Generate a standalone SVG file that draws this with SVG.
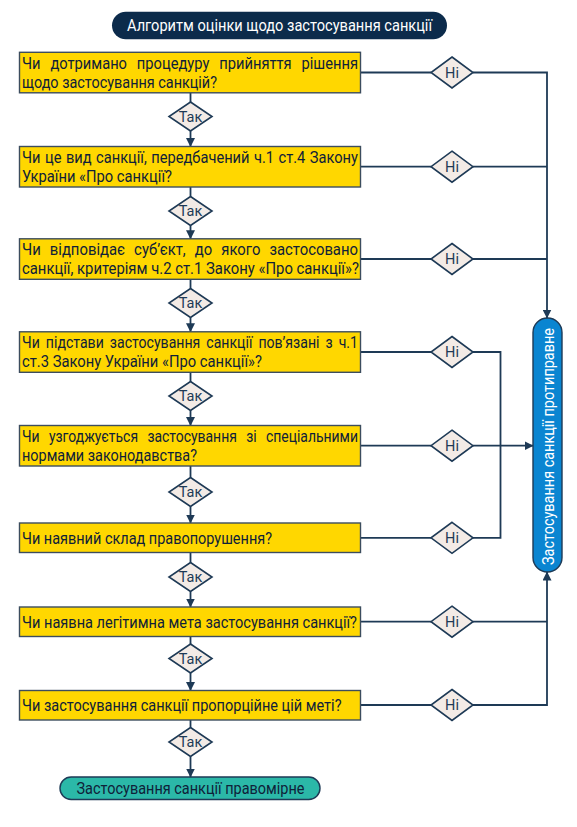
<svg xmlns="http://www.w3.org/2000/svg" width="577" height="827" viewBox="0 0 577 827">
<defs>
<marker id="arr" markerUnits="userSpaceOnUse" markerWidth="9" markerHeight="9" refX="8.5" refY="4.5" orient="auto" viewBox="0 0 9 9">
<path d="M0,0 L9,4.5 L0,9 z" fill="#1e3a56"/>
</marker>
<style>
.box{fill:#FFD700;stroke:#3c4d5e;stroke-width:1.4}
.bt{font-family:Roboto,"Liberation Sans",sans-serif;font-size:16.6px;fill:#0f2139}
.dia{fill:#f3ebe6;stroke:#1e3a56;stroke-width:1.6}
.dt{font-family:Roboto,"Liberation Sans",sans-serif;font-size:14.5px;fill:#1e3a56;text-anchor:middle}
.ln{fill:none;stroke:#1e3a56;stroke-width:1.8}
.wt{font-family:Roboto,"Liberation Sans",sans-serif;font-size:16.6px;fill:#ffffff}
</style>
</defs>
<rect width="577" height="827" fill="#ffffff"/>

<g id="title">
<rect x="112" y="11.7" width="335" height="27.6" rx="13.8" fill="#0c2b4b"/>
<text class="wt" x="127" y="31.2" textLength="305" lengthAdjust="spacingAndGlyphs">Алгоритм оцінки щодо застосування санкції</text>
</g>

<g id="connectors">
<line class="ln" x1="190.5" y1="92.8" x2="190.5" y2="102"/>
<line class="ln" x1="190.5" y1="131" x2="190.5" y2="146.5" marker-end="url(#arr)"/>
<line class="ln" x1="190.5" y1="187" x2="190.5" y2="196.5"/>
<line class="ln" x1="190.5" y1="225.5" x2="190.5" y2="238.8" marker-end="url(#arr)"/>
<line class="ln" x1="190.5" y1="279.3" x2="190.5" y2="288.5"/>
<line class="ln" x1="190.5" y1="317.5" x2="190.5" y2="331.8" marker-end="url(#arr)"/>
<line class="ln" x1="190.5" y1="372.3" x2="190.5" y2="381.5"/>
<line class="ln" x1="190.5" y1="410.5" x2="190.5" y2="425.5" marker-end="url(#arr)"/>
<line class="ln" x1="190.5" y1="466" x2="190.5" y2="477.5"/>
<line class="ln" x1="190.5" y1="506.5" x2="190.5" y2="523" marker-end="url(#arr)"/>
<line class="ln" x1="190.5" y1="552.5" x2="190.5" y2="562.5"/>
<line class="ln" x1="190.5" y1="591.5" x2="190.5" y2="607" marker-end="url(#arr)"/>
<line class="ln" x1="190.5" y1="636.5" x2="190.5" y2="644"/>
<line class="ln" x1="190.5" y1="673" x2="190.5" y2="690.5" marker-end="url(#arr)"/>
<line class="ln" x1="190.5" y1="720" x2="190.5" y2="727.5"/>
<line class="ln" x1="190.5" y1="756.5" x2="190.5" y2="777" marker-end="url(#arr)"/>
<line class="ln" x1="360.5" y1="72.5" x2="431" y2="72.5"/>
<line class="ln" x1="360.5" y1="166.7" x2="431" y2="166.7"/>
<line class="ln" x1="360.5" y1="259" x2="431" y2="259"/>
<line class="ln" x1="360.5" y1="352" x2="431" y2="352"/>
<line class="ln" x1="360.5" y1="445.7" x2="431" y2="445.7"/>
<line class="ln" x1="360.5" y1="537.8" x2="431" y2="537.8"/>
<line class="ln" x1="360.5" y1="621.7" x2="431" y2="621.7"/>
<line class="ln" x1="360.5" y1="705" x2="431" y2="705"/>
<polyline class="ln" points="473,72.5 547,72.5 547,318" marker-end="url(#arr)"/>
<line class="ln" x1="473" y1="166.7" x2="547" y2="166.7"/>
<line class="ln" x1="473" y1="259" x2="547" y2="259"/>
<polyline class="ln" points="473,352 500.5,352 500.5,537.8 473,537.8"/>
<line class="ln" x1="473" y1="445.7" x2="533" y2="445.7" marker-end="url(#arr)"/>
<line class="ln" x1="473" y1="621.7" x2="547" y2="621.7"/>
<polyline class="ln" points="473,705 547,705 547,572" marker-end="url(#arr)"/>
</g>

<g id="q1">
<rect class="box" x="19.5" y="52.3" width="341" height="40.5"/>
<text class="bt" x="22" y="68.7" word-spacing="7" textLength="336" lengthAdjust="spacingAndGlyphs">Чи дотримано процедуру прийняття рішення</text>
<text class="bt" x="22" y="87.7" textLength="195" lengthAdjust="spacingAndGlyphs">щодо застосування санкцій?</text>
</g>
<g id="q2">
<rect class="box" x="19.5" y="146.5" width="341" height="40.5"/>
<text class="bt" x="22" y="162.7" word-spacing="1" textLength="336" lengthAdjust="spacingAndGlyphs">Чи це вид санкції, передбачений ч.1 ст.4 Закону</text>
<text class="bt" x="22" y="181.7" textLength="150" lengthAdjust="spacingAndGlyphs">України «Про санкції?</text>
</g>
<g id="q3">
<rect class="box" x="19.5" y="238.8" width="341" height="40.5"/>
<text class="bt" x="22" y="255.2" word-spacing="6" textLength="336" lengthAdjust="spacingAndGlyphs">Чи відповідає суб’єкт, до якого застосовано</text>
<text class="bt" x="22" y="274.2" textLength="337" lengthAdjust="spacingAndGlyphs">санкції, критеріям ч.2 ст.1 Закону «Про санкції»?</text>
</g>
<g id="q4">
<rect class="box" x="19.5" y="331.8" width="341" height="40.5"/>
<text class="bt" x="22" y="348.2" word-spacing="3" textLength="336" lengthAdjust="spacingAndGlyphs">Чи підстави застосування санкції пов’язані з ч.1</text>
<text class="bt" x="22" y="367.2" textLength="240" lengthAdjust="spacingAndGlyphs">ст.3 Закону України «Про санкції»?</text>
</g>
<g id="q5">
<rect class="box" x="19.5" y="425.5" width="341" height="40.5"/>
<text class="bt" x="22" y="441.9" word-spacing="7" textLength="336" lengthAdjust="spacingAndGlyphs">Чи узгоджується застосування зі спеціальними</text>
<text class="bt" x="22" y="460.9" textLength="175" lengthAdjust="spacingAndGlyphs">нормами законодавства?</text>
</g>
<g id="q6">
<rect class="box" x="19.5" y="523" width="341" height="29.5"/>
<text class="bt" x="22" y="543.7" textLength="250" lengthAdjust="spacingAndGlyphs">Чи наявний склад правопорушення?</text>
</g>
<g id="q7">
<rect class="box" x="19.5" y="607" width="341" height="29.5"/>
<text class="bt" x="22" y="627.7" textLength="335" lengthAdjust="spacingAndGlyphs">Чи наявна легітимна мета застосування санкції?</text>
</g>
<g id="q8">
<rect class="box" x="19.5" y="690.5" width="341" height="29.5"/>
<text class="bt" x="22" y="711.2" textLength="319.5" lengthAdjust="spacingAndGlyphs">Чи застосування санкції пропорційне цій меті?</text>
</g>

<g id="yes1"><polygon class="dia" points="190.5,102 212,116.5 190.5,131 169,116.5"/><text class="dt" x="190.5" y="121.7">Так</text></g>
<g id="yes2"><polygon class="dia" points="190.5,196.5 212,211 190.5,225.5 169,211"/><text class="dt" x="190.5" y="216.2">Так</text></g>
<g id="yes3"><polygon class="dia" points="190.5,288.5 212,303 190.5,317.5 169,303"/><text class="dt" x="190.5" y="308.2">Так</text></g>
<g id="yes4"><polygon class="dia" points="190.5,381.5 212,396 190.5,410.5 169,396"/><text class="dt" x="190.5" y="401.2">Так</text></g>
<g id="yes5"><polygon class="dia" points="190.5,477.5 212,492 190.5,506.5 169,492"/><text class="dt" x="190.5" y="497.2">Так</text></g>
<g id="yes6"><polygon class="dia" points="190.5,562.5 212,577 190.5,591.5 169,577"/><text class="dt" x="190.5" y="582.2">Так</text></g>
<g id="yes7"><polygon class="dia" points="190.5,644 212,658.5 190.5,673 169,658.5"/><text class="dt" x="190.5" y="663.7">Так</text></g>
<g id="yes8"><polygon class="dia" points="190.5,727.5 212,742 190.5,756.5 169,742"/><text class="dt" x="190.5" y="747.2">Так</text></g>

<g id="no1"><polygon class="dia" points="452,57 473,72.5 452,88 431,72.5"/><text class="dt" x="452" y="77.7">Ні</text></g>
<g id="no2"><polygon class="dia" points="452,151.2 473,166.7 452,182.2 431,166.7"/><text class="dt" x="452" y="171.9">Ні</text></g>
<g id="no3"><polygon class="dia" points="452,243.5 473,259 452,274.5 431,259"/><text class="dt" x="452" y="264.2">Ні</text></g>
<g id="no4"><polygon class="dia" points="452,336.5 473,352 452,367.5 431,352"/><text class="dt" x="452" y="357.2">Ні</text></g>
<g id="no5"><polygon class="dia" points="452,430.2 473,445.7 452,461.2 431,445.7"/><text class="dt" x="452" y="450.9">Ні</text></g>
<g id="no6"><polygon class="dia" points="452,522.3 473,537.8 452,553.3 431,537.8"/><text class="dt" x="452" y="543">Ні</text></g>
<g id="no7"><polygon class="dia" points="452,606.2 473,621.7 452,637.2 431,621.7"/><text class="dt" x="452" y="626.9">Ні</text></g>
<g id="no8"><polygon class="dia" points="452,689.5 473,705 452,720.5 431,705"/><text class="dt" x="452" y="710.2">Ні</text></g>

<g id="unlawful">
<rect x="533" y="318" width="29" height="254" rx="14.5" fill="#0a85d1" stroke="#1e3a56" stroke-width="1.4"/>
<text class="wt" x="0" y="0" transform="translate(553.7,565) rotate(-90)" textLength="237" lengthAdjust="spacingAndGlyphs">Застосування санкції протиправне</text>
</g>

<g id="lawful">
<rect x="60" y="777" width="260" height="22.5" rx="11.2" fill="#2bb8a8" stroke="#1e3a56" stroke-width="1.4"/>
<text class="bt" x="76.5" y="794.2" textLength="228" lengthAdjust="spacingAndGlyphs" fill="#0e2a44">Застосування санкції правомірне</text>
</g>
</svg>
